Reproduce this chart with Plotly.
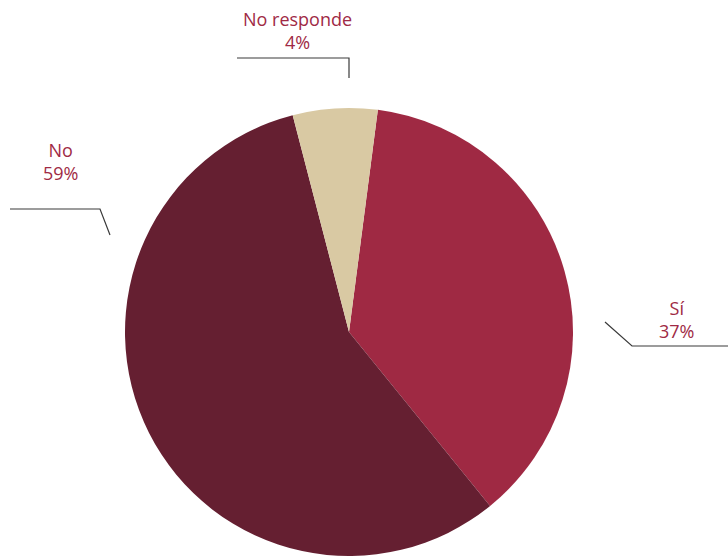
import plotly.graph_objects as go

W, H = 728, 556

# Data
categories = ["Sí", "No", "No responde"]
slice_values = [37.1, 56.8, 6.1]          # slice sizes as drawn
label_texts = ["37%", "59%", "4%"]         # percentages as printed
colors = ["#9F2943", "#651F31", "#D9C9A3"]

TEXT_COLOR = "#A02A45"
LINE_COLOR = "#3A3A3A"
FONT = "Open Sans"


def px(x, y):
    return x / W, 1 - y / H


fig = go.Figure(
    go.Pie(
        labels=categories,
        values=slice_values,
        sort=False,
        direction="clockwise",
        rotation=7.4,
        marker=dict(colors=colors, line=dict(width=0)),
        textinfo="none",
        hoverinfo="label+percent",
        domain=dict(x=[125 / W, 573 / W], y=[0, 1 - 108 / H]),
        showlegend=False,
    )
)

# label placements (layout, in pixels)
label_pos = {"Sí": (676, 319), "No": (61, 162), "No responde": (297, 31)}
leaders = {
    "Sí": [(605, 322), (632, 346), (728, 346)],
    "No": [(10, 209), (100, 209), (110, 235)],
    "No responde": [(237, 58), (349, 58), (349, 78)],
}

annotations = []
shapes = []
for cat, txt in zip(categories, label_texts):
    x, y = px(*label_pos[cat])
    annotations.append(
        dict(
            x=x, y=y, xref="paper", yref="paper",
            text=f"{cat}<br>{txt}", showarrow=False,
            xanchor="center", yanchor="middle", align="center",
            font=dict(family=FONT, size=18, color=TEXT_COLOR),
        )
    )
    pts = [px(a, b) for a, b in leaders[cat]]
    path = "M " + " L ".join(f"{a},{b}" for a, b in pts)
    shapes.append(
        dict(type="path", path=path, xref="paper", yref="paper",
             line=dict(color=LINE_COLOR, width=1.2))
    )

fig.update_layout(
    width=W, height=H,
    margin=dict(l=0, r=0, t=0, b=0),
    paper_bgcolor="white", plot_bgcolor="white",
    annotations=annotations, shapes=shapes,
)

fig.write_html(
    "out.html",
    config={"displayModeBar": False},
    post_script="document.body.style.margin='0';document.body.style.overflow='hidden';",
)
